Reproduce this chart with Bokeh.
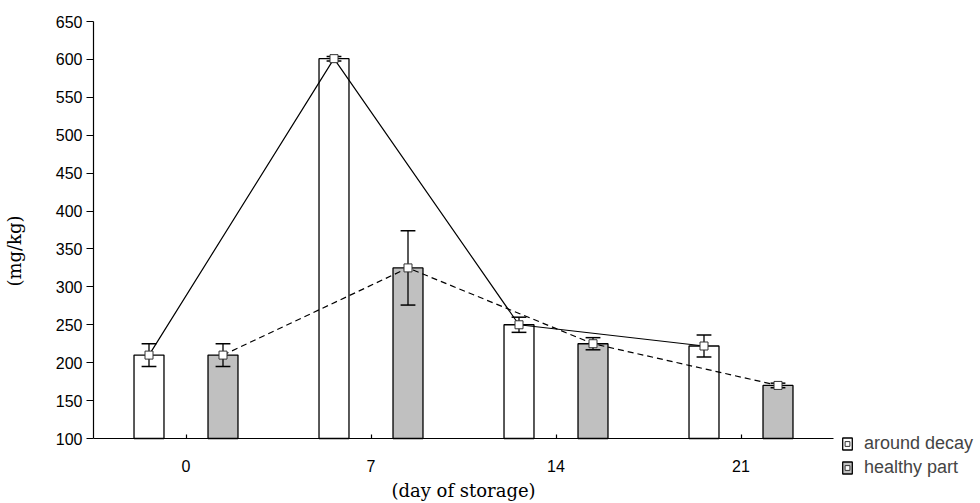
import numpy as np
from bokeh.plotting import figure
from bokeh.models import Range1d, FixedTicker, Legend, LegendItem
from bokeh.embed import file_html
from bokeh.resources import INLINE

days = ["0", "7", "14", "21"]
around_decay = [210, 601, 250, 222]
around_decay_err = [15, 3, 10, 14.5]
healthy_part = [210, 325, 225, 170]
healthy_part_err = [15, 49, 8, 3]
y_ticks = list(range(100, 651, 50))

idx = np.arange(len(days))
off = 0.2
bw = 0.162
cap = 0.04

# layout geometry (pixels)
W, H = 980, 503
left, top, bottom = 93, 21, 0
axis_px_w = 740          # width of the x axis (4 groups)
axis_px_h = 417          # height of the y axis (100..650)
y0, y1 = 100, 650
x0, x1 = -0.5, len(days) - 0.5

px_per_x = axis_px_w / (x1 - x0)
px_per_y = axis_px_h / (y1 - y0)
x_end = x0 + (W - left) / px_per_x
y_start = y0 - (H - top - bottom - axis_px_h) / px_per_y

p = figure(width=W, height=H, output_backend="svg", toolbar_location=None,
           x_range=Range1d(x0, x_end), y_range=Range1d(y_start, y1),
           min_border_left=left, min_border_right=0, min_border_top=top,
           min_border_bottom=bottom)
p.outline_line_color = None
p.xgrid.visible = False
p.ygrid.visible = False
p.background_fill_color = "white"

xa = idx - off
xh = idx + off
ad = np.array(around_decay, dtype=float)
ade = np.array(around_decay_err, dtype=float)
hp = np.array(healthy_part, dtype=float)
hpe = np.array(healthy_part_err, dtype=float)

bar_a = p.vbar(x=xa, top=ad, bottom=y0, width=bw, fill_color="white",
               line_color="black", line_width=1.3)
bar_h = p.vbar(x=xh, top=hp, bottom=y0, width=bw, fill_color="#c0c0c0",
               line_color="black", line_width=1.3)

for xs, ys, es in [(xa, ad, ade), (xh, hp, hpe)]:
    p.segment(x0=xs, y0=ys - es, x1=xs, y1=ys + es, line_color="black", line_width=1.3)
    p.segment(x0=xs - cap, y0=ys + es, x1=xs + cap, y1=ys + es, line_color="black", line_width=1.5)
    p.segment(x0=xs - cap, y0=ys - es, x1=xs + cap, y1=ys - es, line_color="black", line_width=1.5)

p.line(xa, ad, line_color="black", line_width=1.2)
p.line(xh, hp, line_color="black", line_width=1.2, line_dash="6 4")

mk_a = p.scatter(xa, ad, marker="square", size=8, fill_color="white",
                 line_color="#333333", line_width=1)
mk_h = p.scatter(xh, hp, marker="square", size=8, fill_color="white",
                 line_color="#333333", line_width=1)

# axes
p.xaxis.fixed_location = y0
p.xaxis.bounds = (x0, x1)
p.xaxis.ticker = FixedTicker(ticks=list(idx))
p.xaxis.major_label_overrides = {int(i): d for i, d in zip(idx, days)}
p.xaxis.major_tick_in = 4
p.xaxis.major_tick_out = 0
p.xaxis.minor_tick_line_color = None
p.xaxis.major_label_standoff = 21
p.xaxis.axis_label = "(day of storage)"
p.xaxis.axis_label_standoff = 5

p.yaxis.bounds = (y0, y1)
p.yaxis.ticker = FixedTicker(ticks=y_ticks)
p.yaxis.major_tick_in = 0
p.yaxis.major_tick_out = 7
p.yaxis.minor_tick_line_color = None
p.yaxis.major_label_standoff = 4
# non-breaking spaces nudge the rotated label up to the reference position
p.yaxis.axis_label = "\u00a0\u00a0\u00a0\u00a0(mg/kg)"
p.yaxis.axis_label_standoff = 28

for ax in (p.xaxis[0], p.yaxis[0]):
    ax.axis_line_color = "black"
    ax.axis_line_width = 1.2
    ax.major_tick_line_color = "black"
    ax.major_tick_line_width = 1.2
    ax.major_label_text_font = "Liberation Sans"
    ax.major_label_text_font_size = "16px"
    ax.major_label_text_color = "black"
    ax.axis_label_text_font = "DejaVu Serif"
    ax.axis_label_text_font_size = "18px"
    ax.axis_label_text_font_style = "normal"
    ax.axis_label_text_color = "black"

legend = Legend(items=[LegendItem(label="around decay", renderers=[bar_a, mk_a]),
                       LegendItem(label="healthy part", renderers=[bar_h, mk_h])],
                location=(748, 25), padding=0, margin=0, spacing=3,
                glyph_width=12, glyph_height=15, label_height=15, label_standoff=11,
                label_text_font="Liberation Sans", label_text_font_size="18px",
                border_line_alpha=0, background_fill_alpha=0)
p.add_layout(legend)

open("out.html", "w").write(file_html(p, INLINE))
